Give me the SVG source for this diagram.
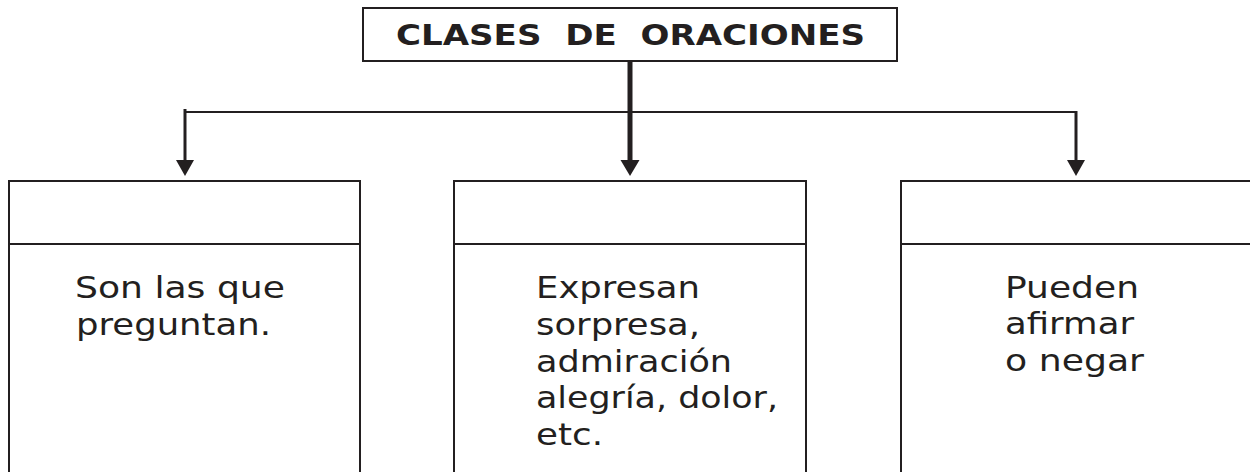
<svg xmlns="http://www.w3.org/2000/svg" width="1250" height="472" viewBox="0 0 1250 472">
<style>
.box{fill:none;stroke:#231f20;stroke-width:2}
.ln{fill:none;stroke:#231f20;stroke-width:2}
.sh{fill:none;stroke:#231f20;stroke-width:3}
.t{font-family:"DejaVu Sans",Verdana,sans-serif;font-size:31px;fill:#231f20}
.h{font-family:"DejaVu Sans",Verdana,sans-serif;font-size:28px;font-weight:bold;fill:#231f20}
</style>
<rect width="1250" height="472" fill="#ffffff"/>
<g id="title">
<rect class="box" x="363" y="8" width="534" height="53"/>
<text class="h" x="396" y="45" textLength="469" lengthAdjust="spacingAndGlyphs" xml:space="preserve">CLASES  DE  ORACIONES</text>
</g>
<g id="connectors">
<path class="sh" d="M630,61 V160" style="stroke-width:5"/>
<path d="M620.5,160 H639.5 L630,176 Z" fill="#231f20"/>
<path class="ln" d="M184,112 H1076"/>
<path class="sh" d="M185,109 V160"/>
<path d="M176,160 H194 L185,176 Z" fill="#231f20"/>
<path class="sh" d="M1076,111 V160"/>
<path d="M1067,160 H1085 L1076,176 Z" fill="#231f20"/>
</g>
<g id="node-left">
<path class="box" d="M9,472 V181 H360 V472 M9,244 H360"/>
<text class="t" x="75" y="298" textLength="210" lengthAdjust="spacingAndGlyphs">Son las que</text>
<text class="t" x="76" y="335" textLength="195" lengthAdjust="spacingAndGlyphs">preguntan.</text>
</g>
<g id="node-middle">
<path class="box" d="M454,472 V181 H806 V472 M454,244 H806"/>
<text class="t" x="536" y="298" textLength="164" lengthAdjust="spacingAndGlyphs">Expresan</text>
<text class="t" x="536" y="335" textLength="164" lengthAdjust="spacingAndGlyphs">sorpresa,</text>
<text class="t" x="536" y="372" textLength="196" lengthAdjust="spacingAndGlyphs">admiración</text>
<text class="t" x="536" y="408" textLength="242" lengthAdjust="spacingAndGlyphs">alegría, dolor,</text>
<text class="t" x="536" y="445" textLength="67" lengthAdjust="spacingAndGlyphs">etc.</text>
</g>
<g id="node-right">
<path class="box" d="M901,472 V181 H1252 M901,244 H1252"/>
<text class="t" x="1005" y="298" textLength="134" lengthAdjust="spacingAndGlyphs">Pueden</text>
<text class="t" x="1005" y="334" textLength="129" lengthAdjust="spacingAndGlyphs">afirmar</text>
<text class="t" x="1005" y="371" textLength="139" lengthAdjust="spacingAndGlyphs">o negar</text>
</g>
</svg>
